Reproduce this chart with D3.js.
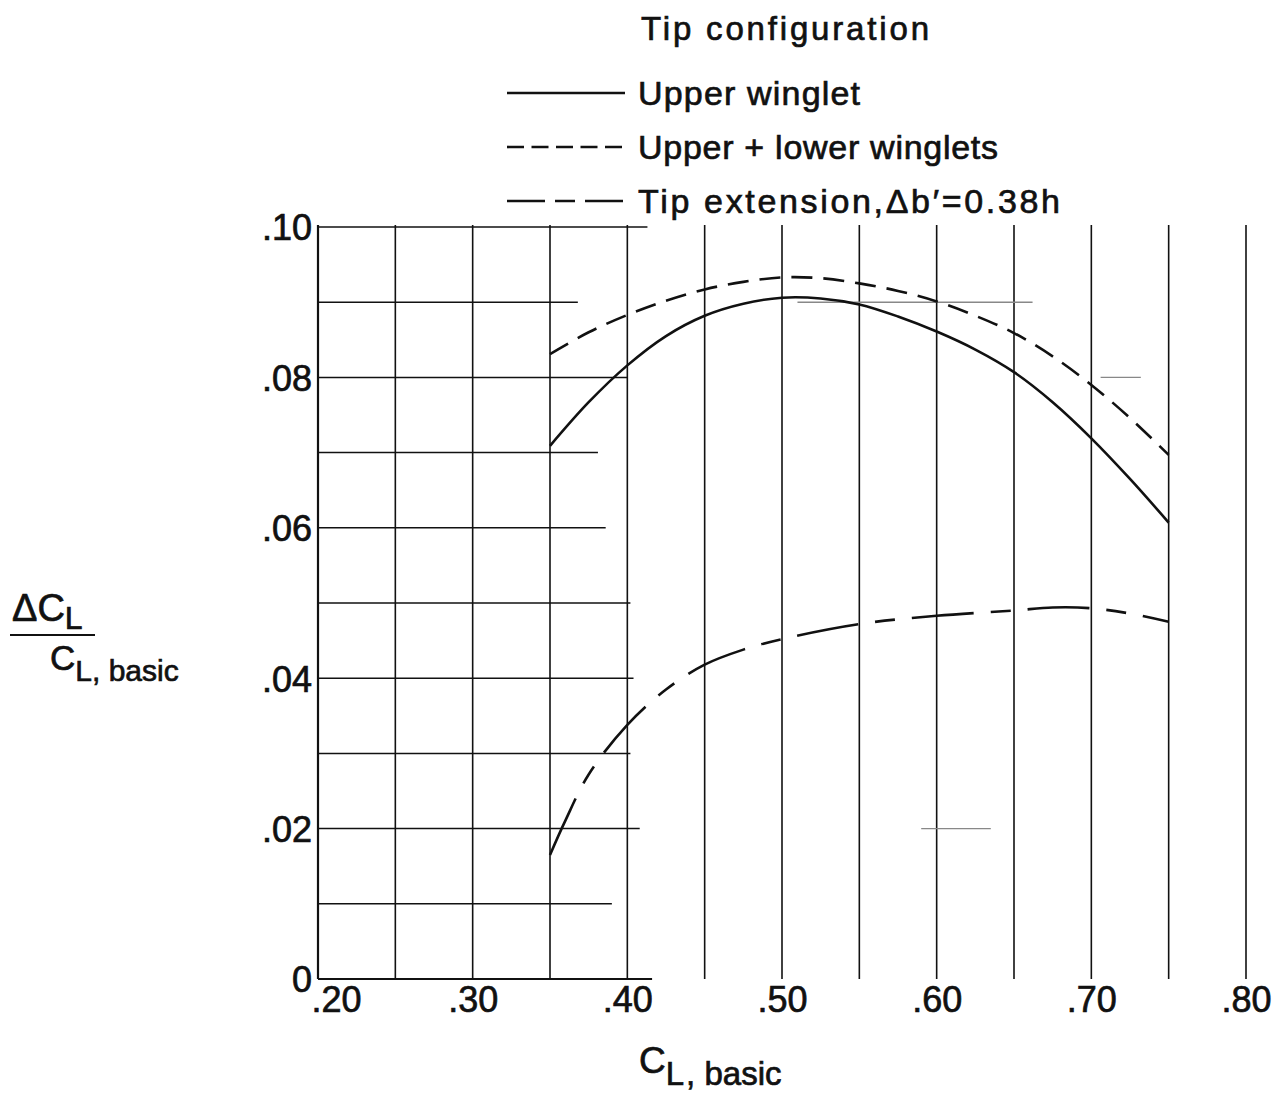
<!DOCTYPE html>
<html>
<head>
<meta charset="utf-8">
<script src="https://cdn.jsdelivr.net/npm/d3@7"></script>
<style>
  body { margin: 0; background: #fff; }
  svg { display: block; }
  text { font-family: "Liberation Sans", Arial, sans-serif; fill: #111; stroke: #111; stroke-width: 0.7px; }
</style>
</head>
<body>
<svg width="1274" height="1098"></svg>
<script>
// lift coefficient, basic wing (x)
const cl = [0.35, 0.375, 0.40, 0.425, 0.45, 0.475, 0.50, 0.525, 0.55, 0.575, 0.60, 0.625, 0.65, 0.675, 0.70, 0.725, 0.75];
const upperWinglet = [0.0709, 0.0767, 0.0816, 0.0855, 0.0882, 0.0898, 0.0906, 0.0905, 0.0897, 0.0881, 0.0861, 0.0837, 0.0807, 0.0767, 0.0719, 0.0665, 0.0607];
const upperLower = [0.0831, 0.0860, 0.0883, 0.0902, 0.0917, 0.0927, 0.0933, 0.0932, 0.0925, 0.0915, 0.0901, 0.0882, 0.0859, 0.0828, 0.0790, 0.0746, 0.0697];
const clTip = [0.35, 0.36, 0.375, 0.40, 0.425, 0.45, 0.475, 0.50, 0.55, 0.60, 0.65, 0.675, 0.70, 0.725, 0.75];
const tipExtension = [0.0165, 0.0211, 0.0272, 0.0338, 0.0385, 0.0418, 0.0438, 0.0452, 0.0472, 0.0483, 0.0490, 0.0494, 0.0493, 0.0486, 0.0475];

const xTicks = [0.20, 0.30, 0.40, 0.50, 0.60, 0.70, 0.80];
const xTickLabels = [".20", ".30", ".40", ".50", ".60", ".70", ".80"];
const yTicks = [0, 0.02, 0.04, 0.06, 0.08, 0.10];
const yTickLabels = ["0", ".02", ".04", ".06", ".08", ".10"];
const vGrid = d3.range(0, 13).map(i => 0.20 + i * 0.05);
// horizontal rules of the grid paper only reach so far to the right
const hGrid = [0, 0.01, 0.02, 0.03, 0.04, 0.05, 0.06, 0.07, 0.08, 0.09, 0.10];
const hGridEnd = [0.416, 0.39, 0.408, 0.402, 0.404, 0.402, 0.386, 0.381, 0.40, 0.368, 0.413];
// stray rule fragments [y, x0, x1]
const hFragments = [[0.09, 0.51, 0.662], [0.08, 0.706, 0.732], [0.02, 0.59, 0.635]];

const legendNames = ["Upper  winglet", "Upper + lower winglets", "Tip extension,\u0394b\u2032=0.38h"];

const svg = d3.select("svg");
const margin = { top: 227, right: 28, bottom: 119, left: 318 };
const W = 1274, H = 1098;

const xScale = d3.scaleLinear().domain([0.20, 0.80]).range([margin.left, W - margin.right]);
const yScale = d3.scaleLinear().domain([0, 0.10]).range([H - margin.bottom, margin.top]);

//grid
const grid = svg.append("g").attr("stroke", "#111").attr("fill", "none");
grid.selectAll("line.v")
  .data(vGrid)
  .enter()
  .append("line")
  .attr("x1", d => xScale(d)).attr("x2", d => xScale(d))
  .attr("y1", yScale(0.10) - 2).attr("y2", yScale(0))
  .attr("stroke-width", (d, i) => i === 0 ? 2.2 : 1.6);

grid.selectAll("line.h")
  .data(hGrid)
  .enter()
  .append("line")
  .attr("x1", xScale(0.20))
  .attr("x2", (d, i) => xScale(hGridEnd[i]))
  .attr("y1", d => yScale(d)).attr("y2", d => yScale(d))
  .attr("stroke-width", d => d === 0 ? 2.2 : 1.5);

grid.selectAll("line.f")
  .data(hFragments)
  .enter()
  .append("line")
  .attr("x1", d => xScale(d[1])).attr("x2", d => xScale(d[2]))
  .attr("y1", d => yScale(d[0])).attr("y2", d => yScale(d[0]))
  .attr("stroke", "#888")
  .attr("stroke-width", 1.4);

//axes (labels only)
const yAxis = d3.axisLeft(yScale)
  .tickValues(yTicks)
  .tickSize(0)
  .tickPadding(6)
  .tickFormat((d, i) => yTickLabels[i]);
const gy = svg.append("g").attr("transform", "translate(" + [margin.left, 0] + ")").call(yAxis);
gy.select(".domain").remove();
gy.selectAll("text").style("font-size", "36px").attr("dy", "0.36em");

const xAxis = d3.axisBottom(xScale)
  .tickValues(xTicks)
  .tickSize(0)
  .tickPadding(7)
  .tickFormat((d, i) => xTickLabels[i]);
const gx = svg.append("g").attr("transform", "translate(" + [0, yScale(0)] + ")").call(xAxis);
gx.select(".domain").remove();
gx.selectAll("text").style("font-size", "36px")
  .attr("dx", (d, i) => i === 0 ? 18 : 0);
svg.selectAll(".tick text").attr("fill", "#111");

//curves
const line = d3.line()
  .x(d => xScale(d[0]))
  .y(d => yScale(d[1]))
  .curve(d3.curveCatmullRom.alpha(0.5));

const series = [
  { pts: cl.map((x, i) => [x, upperWinglet[i]]), dash: null },
  { pts: cl.map((x, i) => [x, upperLower[i]]), dash: "21,11" },
  { pts: clTip.map((x, i) => [x, tipExtension[i]]), dash: "62,17,20,17" }
];

svg.selectAll("path.curve")
  .data(series)
  .enter()
  .append("path")
  .attr("class", "curve")
  .attr("d", d => line(d.pts))
  .attr("fill", "none")
  .attr("stroke", "#111")
  .attr("stroke-width", 2.6)
  .attr("stroke-dasharray", d => d.dash);

//legend
svg.append("text")
  .attr("x", 641).attr("y", 40)
  .attr("textLength", 288)
  .attr("lengthAdjust", "spacing")
  .style("font-size", "33px")
  .text("Tip configuration");

const legendDash = [null, "17,7.5", "38,10,20,10"];
const legendWidth = [222, 360, 422];
const leg = svg.append("g");
legendNames.forEach((name, i) => {
  const y = 93 + i * 54;
  leg.append("line")
    .attr("x1", 507).attr("x2", 625)
    .attr("y1", y).attr("y2", y)
    .attr("stroke", "#111")
    .attr("stroke-width", 2.6)
    .attr("stroke-dasharray", legendDash[i]);
  leg.append("text")
    .attr("x", 638).attr("y", y + 12)
    .attr("textLength", legendWidth[i])
    .attr("lengthAdjust", "spacing")
    .style("font-size", "34px")
    .text(name);
});

//axis titles
const xt = svg.append("text").attr("x", 639).attr("y", 1073).style("font-size", "37px");
xt.append("tspan").text("C");
xt.append("tspan").attr("dy", 12).style("font-size", "33px").text("L");
xt.append("tspan").style("font-size", "33px").attr("dx", 2).text(",  basic");

const yt = svg.append("g");
const num = yt.append("text").attr("x", 12).attr("y", 621).style("font-size", "38px");
num.append("tspan").text("\u0394C");
num.append("tspan").attr("dy", 8).style("font-size", "32px").text("L");
yt.append("line")
  .attr("x1", 10).attr("x2", 95)
  .attr("y1", 635).attr("y2", 635)
  .attr("stroke", "#111").attr("stroke-width", 2.2);
const den = yt.append("text").attr("x", 50).attr("y", 670).style("font-size", "35px");
den.append("tspan").text("C");
den.append("tspan").attr("dy", 11).style("font-size", "30px").text("L");
den.append("tspan").style("font-size", "30px").text(", basic");
</script>
</body>
</html>
